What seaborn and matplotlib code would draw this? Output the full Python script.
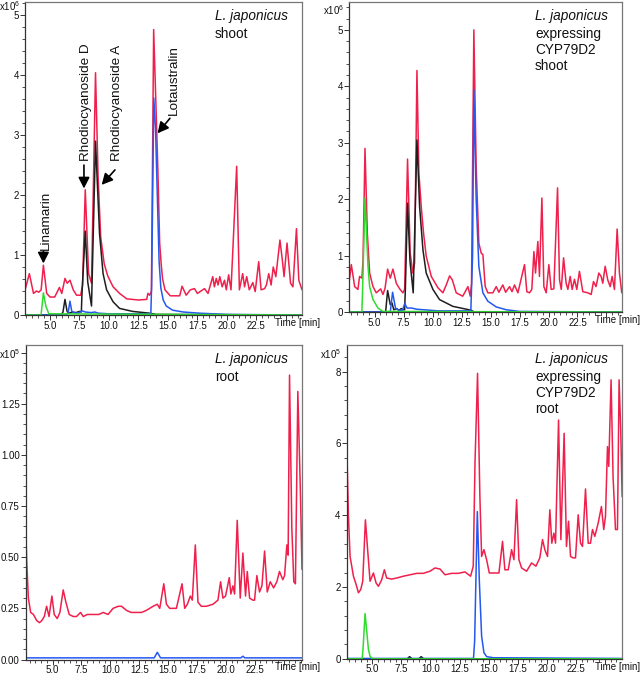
import matplotlib
matplotlib.use('Agg')
import matplotlib.pyplot as plt
import seaborn as sns
from matplotlib.ticker import MultipleLocator

sns.set_style('ticks')
plt.rcParams['font.family'] = ['Liberation Sans', 'DejaVu Sans']
plt.rcParams['mathtext.fontset'] = 'custom'
plt.rcParams['mathtext.rm'] = 'Liberation Sans'

# ---------------- data ----------------
x_ticks = [5.0, 7.5, 10.0, 12.5, 15.0, 17.5, 20.0, 22.5, 25.0]
x_tick_labels = ['5.0', '7.5', '10.0', '12.5', '15.0', '17.5', '20.0', '22.5', '']

# Top-left: L. japonicus shoot (x10^6)
tl_red_t = [2.89, 3.25, 3.6, 3.85, 4.05, 4.25, 4.44, 4.72, 5.0, 5.4, 5.8, 6.0, 6.27, 6.46, 6.7, 6.97, 7.25, 7.6,
            7.76, 7.99, 8.27, 8.52, 8.86, 9.08, 9.3, 9.6, 9.9, 10.35, 10.9, 11.5, 12.5, 13.2, 13.3, 13.45, 13.6,
            13.79, 14.0, 14.15, 14.3, 14.44, 14.55, 14.75, 15.2, 16.0, 16.2, 16.55, 16.9, 17.25, 17.5, 18.1, 18.4,
            18.8, 18.94, 19.1, 19.25, 19.4, 19.6, 19.8, 19.95, 20.15, 20.35, 20.83, 21.06, 21.34, 21.5, 21.68,
            21.9, 22.2, 22.4, 22.7, 22.9, 23.2, 23.35, 23.55, 23.75, 23.93, 24.15, 24.5, 24.7, 24.85, 25.1, 25.4,
            25.6, 25.9, 26.1, 26.37]
tl_red_y = [0.42, 0.69, 0.36, 0.40, 0.38, 0.42, 0.83, 0.36, 0.30, 0.30, 0.46, 0.36, 0.61, 0.53, 0.58, 0.42, 0.33,
            0.33, 0.50, 2.09, 0.69, 0.53, 4.04, 2.30, 1.30, 0.85, 0.65, 0.47, 0.36, 0.27, 0.25, 0.26, 0.36, 0.33,
            0.40, 4.76, 3.40, 2.40, 1.20, 0.82, 0.60, 0.42, 0.32, 0.32, 0.48, 0.33, 0.42, 0.44, 0.36, 0.44, 0.36,
            0.64, 0.47, 0.61, 0.50, 0.64, 0.47, 0.58, 0.42, 0.67, 0.42, 2.48, 0.42, 0.69, 0.47, 0.64, 0.42, 0.54,
            0.39, 0.89, 0.42, 0.44, 0.50, 0.69, 0.50, 0.80, 0.64, 1.25, 0.92, 0.64, 1.20, 0.53, 0.47, 1.44, 0.58,
            0.42]
tl_black_t = [2.89, 5.95, 6.1, 6.27, 6.45, 6.6, 6.9, 7.2, 7.5, 7.66, 7.7, 7.99, 8.2, 8.52, 8.86, 9.2, 9.5, 9.8,
              10.35, 10.9, 12.0, 13.45, 14.0, 26.37]
tl_black_y = [0, 0, 0.05, 0.26, 0.06, 0.03, 0.05, 0.04, 0.06, 0.05, 0.30, 1.40, 0.55, 0.15, 2.90, 1.36, 0.69,
              0.42, 0.22, 0.11, 0.06, 0.03, 0.01, 0.0]
tl_blue_t = [2.89, 6.4, 6.55, 6.69, 6.85, 7.0, 7.4, 7.7, 8.0, 8.5, 8.8, 9.1, 10.0, 13.55, 13.62, 13.8, 13.95,
             14.1, 14.25, 14.4, 14.6, 14.86, 15.4, 16.3, 17.7, 20.0, 26.37]
tl_blue_y = [0, 0, 0.05, 0.23, 0.06, 0.04, 0.03, 0.07, 0.05, 0.04, 0.05, 0.03, 0.02, 0.02, 0.5, 3.62, 3.1, 2.0,
             0.9, 0.45, 0.25, 0.15, 0.08, 0.05, 0.03, 0.01, 0.0]
tl_green_t = [2.89, 4.24, 4.35, 4.44, 4.55, 4.66, 4.9, 26.37]
tl_green_y = [0, 0, 0.2, 0.37, 0.25, 0.14, 0.02, 0]

# Top-right: L. japonicus expressing CYP79D2 shoot (x10^6)
tr_red_t = [2.79, 2.99, 3.28, 3.56, 3.7, 3.9, 4.0, 4.17, 4.37, 4.57, 4.86, 5.14, 5.52, 5.72, 5.9, 6.12, 6.35,
            6.58, 6.87, 7.16, 7.44, 7.59, 7.84, 8.07, 8.3, 8.45, 8.65, 8.82, 9.02, 9.22, 9.45, 9.89, 10.46, 10.89,
            11.18, 11.47, 11.7, 12.04, 12.6, 13.05, 13.25, 13.36, 13.56, 13.76, 13.99, 14.2, 14.34, 14.54, 14.77,
            15.2, 15.49, 15.72, 16.06, 16.3, 16.64, 16.85, 17.07, 17.36, 17.93, 18.13, 18.36, 18.56, 18.74, 18.88,
            19.08, 19.22, 19.43, 19.6, 19.8, 20.03, 20.23, 20.46, 20.78, 20.95, 21.1, 21.3, 21.52, 21.67, 21.87,
            22.04, 22.24, 22.44, 22.67, 22.96, 23.39, 23.68, 23.88, 24.1, 24.34, 24.54, 24.68, 24.89, 25.11,
            25.32, 25.49, 25.69, 25.92, 26.12, 26.32]
tr_red_y = [0.51, 0.84, 0.45, 0.40, 0.63, 0.60, 0.9, 2.90, 1.40, 0.69, 0.45, 0.34, 0.41, 0.31, 0.42, 0.76, 0.60,
            0.76, 0.51, 0.41, 0.34, 0.40, 2.71, 1.04, 0.69, 0.87, 4.28, 2.46, 1.87, 1.40, 0.99, 0.63, 0.43, 0.34,
            0.48, 0.64, 0.57, 0.34, 0.28, 0.45, 0.28, 0.5, 5.00, 2.58, 1.22, 1.04, 1.02, 0.45, 0.34, 0.34, 0.45,
            0.35, 0.48, 0.35, 0.45, 0.36, 0.48, 0.34, 0.84, 0.36, 0.34, 0.40, 1.07, 0.69, 1.25, 0.63, 2.02, 0.45,
            0.34, 0.84, 0.40, 0.41, 2.20, 0.57, 0.40, 0.96, 0.51, 0.40, 0.63, 0.40, 0.58, 0.40, 0.72, 0.36, 0.34,
            0.31, 0.54, 0.45, 0.69, 0.63, 0.51, 0.81, 0.57, 0.45, 0.63, 0.40, 1.47, 0.69, 0.34]
tr_black_t = [2.79, 5.95, 6.12, 6.35, 6.5, 6.65, 6.9, 7.1, 7.3, 7.5, 7.59, 7.65, 7.84, 8.05, 8.33, 8.65, 8.88,
              9.17, 9.45, 10.03, 10.6, 11.75, 12.9, 13.33, 13.6, 26.32]
tr_black_y = [0, 0, 0.38, 0.13, 0.16, 0.04, 0.06, 0.03, 0.06, 0.04, 0.04, 0.4, 1.93, 0.9, 0.34, 3.05, 1.87,
              1.10, 0.69, 0.40, 0.22, 0.10, 0.05, 0.03, 0.0, 0]
tr_blue_t = [2.79, 6.35, 6.55, 6.8, 7.1, 7.4, 7.6, 7.8, 8.2, 8.6, 9.2, 10.5, 13.3, 13.45, 13.56, 13.76, 13.99,
             14.34, 14.77, 15.49, 16.35, 17.5, 26.32]
tr_blue_y = [0, 0, 0.35, 0.07, 0.03, 0.03, 0.15, 0.07, 0.07, 0.05, 0.04, 0.02, 0.02, 1.0, 3.94, 2.0, 0.81, 0.34,
             0.19, 0.09, 0.04, 0.01, 0]
tr_green_t = [2.79, 3.9, 3.95, 4.17, 4.3, 4.43, 4.57, 4.86, 5.29, 5.72, 26.32]
tr_green_y = [0, 0, 0.3, 2.02, 1.40, 0.81, 0.45, 0.22, 0.07, 0.01, 0]

# Bottom-left: L. japonicus root (x10^5)
bl_red_t = [2.67, 2.76, 2.9, 3.1, 3.34, 3.63, 3.86, 4.06, 4.28, 4.48, 4.69, 4.94, 5.14, 5.4, 5.63, 5.92, 6.15,
            6.44, 6.79, 7.07, 7.42, 7.65, 8.0, 8.51, 9.0, 9.38, 9.8, 10.24, 10.68, 10.97, 11.4, 11.8, 12.26, 12.7,
            13.12, 13.7, 14.07, 14.28, 14.63, 14.86, 15.14, 15.72, 16.21, 16.44, 16.67, 16.93, 17.1, 17.36, 17.59,
            17.88, 18.31, 18.89, 19.32, 19.55, 19.75, 19.98, 20.3, 20.44, 20.62, 20.76, 20.99, 21.25, 21.48,
            21.71, 21.86, 22.06, 22.35, 22.49, 22.69, 22.92, 23.13, 23.36, 23.59, 23.85, 24.14, 24.42, 24.65,
            24.94, 25.09, 25.29, 25.4, 25.52, 25.72, 25.89, 26.03, 26.24, 26.47, 26.6]
bl_red_y = [0.65, 0.475, 0.30, 0.23, 0.22, 0.19, 0.18, 0.19, 0.21, 0.26, 0.21, 0.31, 0.22, 0.20, 0.23, 0.34,
            0.28, 0.22, 0.21, 0.21, 0.23, 0.21, 0.22, 0.22, 0.22, 0.23, 0.22, 0.25, 0.26, 0.26, 0.24, 0.23, 0.23,
            0.23, 0.24, 0.26, 0.27, 0.25, 0.37, 0.27, 0.25, 0.25, 0.37, 0.25, 0.27, 0.31, 0.29, 0.56, 0.28, 0.26,
            0.26, 0.27, 0.29, 0.38, 0.30, 0.31, 0.40, 0.32, 0.36, 0.32, 0.68, 0.30, 0.52, 0.31, 0.43, 0.30, 0.29,
            0.29, 0.41, 0.33, 0.36, 0.53, 0.33, 0.38, 0.35, 0.38, 0.43, 0.39, 0.41, 0.56, 0.51, 1.39, 0.64, 0.38,
            0.37, 1.31, 0.80, 0.44]
bl_blue_t = [2.67, 13.8, 14.07, 14.35, 21.3, 21.48, 21.65, 26.6]
bl_blue_y = [0.008, 0.008, 0.035, 0.008, 0.008, 0.016, 0.008, 0.008]

# Bottom-right: L. japonicus expressing CYP79D2 root (x10^5)
br_red_t = [2.79, 2.94, 3.08, 3.37, 3.6, 3.8, 4.0, 4.17, 4.4, 4.57, 4.8, 5.09, 5.32, 5.52, 5.8, 6.03, 6.23, 6.66,
            7.09, 7.66, 8.24, 8.81, 9.38, 9.96, 10.39, 10.82, 11.25, 11.82, 12.39, 12.97, 13.45, 13.68, 13.83,
            14.05, 14.25, 14.4, 14.6, 14.83, 15.06, 15.4, 15.89, 16.2, 16.4, 16.69, 16.98, 17.18, 17.41, 17.61,
            17.84, 18.27, 18.7, 19.07, 19.41, 19.64, 19.84, 20.07, 20.27, 20.44, 20.62, 20.76, 21.02, 21.22, 21.5,
            21.7, 21.88, 22.05, 22.28, 22.48, 22.71, 22.91, 23.08, 23.34, 23.57, 23.77, 23.94, 24.14, 24.43,
            24.71, 24.91, 25.06, 25.23, 25.34, 25.54, 25.71, 25.92, 26.09, 26.23, 26.37, 26.49]
br_red_y = [6.0, 3.97, 2.85, 2.30, 2.07, 1.84, 1.93, 2.16, 3.87, 3.13, 2.16, 2.39, 2.11, 2.02, 2.20, 2.48, 2.25,
            2.22, 2.25, 2.30, 2.34, 2.38, 2.38, 2.44, 2.53, 2.50, 2.34, 2.38, 2.38, 2.42, 2.30, 2.58, 5.45, 7.95,
            4.52, 2.85, 3.04, 2.76, 2.39, 2.39, 2.39, 3.27, 2.48, 2.48, 3.04, 2.76, 4.43, 2.76, 2.53, 2.44, 2.67,
            2.58, 2.81, 3.32, 3.04, 2.85, 4.15, 3.22, 3.50, 3.22, 6.65, 3.32, 6.28, 3.13, 3.83, 2.85, 2.81, 2.81,
            4.01, 3.22, 3.13, 4.73, 3.22, 3.22, 3.60, 3.41, 3.78, 4.24, 3.60, 3.97, 5.91, 5.36, 7.77, 5.08, 3.60,
            3.60, 7.77, 6.38, 4.52]
br_black_t = [2.79, 8.0, 8.2, 8.4, 9.0, 9.2, 9.4, 26.49]
br_black_y = [0, 0, 0.06, 0, 0, 0.06, 0, 0]
br_blue_t = [2.79, 13.7, 13.8, 14.03, 14.2, 14.4, 14.6, 14.83, 15.4, 26.49]
br_blue_y = [0.01, 0.01, 0.5, 4.10, 2.2, 0.63, 0.17, 0.06, 0.03, 0.01]
br_green_t = [2.79, 4.12, 4.2, 4.37, 4.5, 4.66, 4.8, 5.0, 26.49]
br_green_y = [0, 0, 0.3, 1.26, 0.82, 0.26, 0.07, 0, 0]

shoot_yticks = [0, 1, 2, 3, 4, 5]
shoot_ytick_labels = ['0', '1', '2', '3', '4', '5']
wt_root_yticks = [0.0, 0.25, 0.5, 0.75, 1.0, 1.25, 1.5]
wt_root_ytick_labels = ['0.00', '0.25', '0.50', '0.75', '1.00', '1.25', '']
tg_root_yticks = [0, 2, 4, 6, 8]
tg_root_ytick_labels = ['0', '2', '4', '6', '8']

compounds = ['Linamarin', 'Rhodiocyanoside D', 'Rhodiocyanoside A', 'Lotaustralin']
compound_text_xy = [(4.62, 1.08), (8.05, 2.56), (10.68, 2.56), (15.51, 3.33)]
compound_arrow_from = [(4.44, 1.06), (7.88, 2.50), (10.51, 2.42), (15.17, 3.28)]
compound_arrow_to = [(4.44, 0.86), (7.88, 2.11), (9.38, 2.17), (14.12, 3.03)]

# ---------------- styling ----------------
RED = '#F0204C'
BLUE = '#2458F0'
GREEN = '#2EDC2E'
BLACK = '#1E1E1E'
W, H = 640, 674
fig = plt.figure(figsize=(6.4, 6.74), dpi=100)


def px_axes(left, top, right, bottom):
    return fig.add_axes([left / W, 1 - bottom / H, (right - left) / W, (bottom - top) / H])


panels = [
    dict(box=(25, 2, 302, 315), xlim=(2.88, 26.37), ylim=(0, 5.22), yt=shoot_yticks, ytl=shoot_ytick_labels,
         yminor=0.2, exp='6', expdy=4.5, lines=['shoot'],
         traces=[(tl_red_t, tl_red_y, RED), (tl_black_t, tl_black_y, BLACK), (tl_blue_t, tl_blue_y, BLUE),
                 (tl_green_t, tl_green_y, GREEN)]),
    dict(box=(349, 1.7, 622, 312), xlim=(2.79, 26.34), ylim=(0, 5.5), yt=shoot_yticks, ytl=shoot_ytick_labels,
         yminor=0.2, exp='6', expdy=8, lines=['expressing', 'CYP79D2', 'shoot'],
         traces=[(tr_red_t, tr_red_y, RED), (tr_black_t, tr_black_y, BLACK), (tr_blue_t, tr_blue_y, BLUE),
                 (tr_green_t, tr_green_y, GREEN)]),
    dict(box=(25.7, 345, 302, 659.5), xlim=(2.67, 26.6), ylim=(0, 1.537), yt=wt_root_yticks,
         ytl=wt_root_ytick_labels, yminor=0.05, exp='5', expdy=9, lines=['root'],
         traces=[(bl_red_t, bl_red_y, RED), (bl_blue_t, bl_blue_y, BLUE)]),
    dict(box=(346.7, 345, 622, 658.8), xlim=(2.79, 26.48), ylim=(0, 8.74), yt=tg_root_yticks,
         ytl=tg_root_ytick_labels, yminor=0.4, exp='5', expdy=9, lines=['expressing', 'CYP79D2', 'root'],
         traces=[(br_red_t, br_red_y, RED), (br_black_t, br_black_y, BLACK), (br_blue_t, br_blue_y, BLUE),
                 (br_green_t, br_green_y, GREEN)]),
]

PT = 72 / 100  # points per pixel
TICK_FS = 7.0
axes = []
for p in panels:
    l, t, r, b = p['box']
    ax = px_axes(l, t, r, b)
    axes.append(ax)
    for tt, yy, c in p['traces']:
        sns.lineplot(x=tt, y=yy, ax=ax, color=c, lw=1.1, estimator=None, sort=False, legend=False)
    ax.set_xlim(*p['xlim'])
    ax.set_ylim(*p['ylim'])
    ax.set_xlabel('')
    ax.set_ylabel('')
    ax.set_xticks(x_ticks)
    ax.set_xticklabels(x_tick_labels)
    ax.xaxis.set_minor_locator(MultipleLocator(0.5))
    ax.set_yticks(p['yt'])
    ax.set_yticklabels(p['ytl'])
    ax.yaxis.set_minor_locator(MultipleLocator(p['yminor']))
    ax.tick_params(which='major', direction='out', length=3.4, width=0.7, labelsize=TICK_FS, pad=1.0,
                   color='#333333', labelcolor='#111111')
    ax.tick_params(axis='x', which='major', pad=0.6)
    ax.tick_params(which='minor', direction='out', length=2.0, width=0.6, color='#333333')
    for side in ['left', 'bottom']:
        ax.spines[side].set_color('#333333')
        ax.spines[side].set_linewidth(0.9)
    for side in ['top', 'right']:
        ax.spines[side].set_visible(True)
        ax.spines[side].set_color('#777777')
        ax.spines[side].set_linewidth(0.9)
    # multiplier
    ax.annotate('x10$^{' + p['exp'] + '}$', xy=(0, 1), xycoords='axes fraction',
                xytext=(-5 * PT, -p['expdy'] * PT), textcoords='offset points', ha='right', va='center',
                fontsize=TICK_FS, color='#111111', annotation_clip=False)
    # time label
    ax.annotate('Time [min]', xy=(1, 0), xycoords='axes fraction', xytext=(-27 * PT, -8 * PT),
                textcoords='offset points', ha='left', va='center', fontsize=TICK_FS, color='#111111',
                annotation_clip=False)
    # panel title
    fx = (215 if l < 300 else 535)
    ax.annotate('L. japonicus', xy=(0, 1), xycoords='axes fraction',
                xytext=((fx - l) * PT, -7 * PT), textcoords='offset points', ha='left', va='top',
                fontsize=9.8, fontstyle='italic', color='#111111')
    ax.annotate('\n'.join(p['lines']), xy=(0, 1), xycoords='axes fraction',
                xytext=((fx - l) * PT, -25 * PT), textcoords='offset points', ha='left', va='top',
                fontsize=9.8, color='#111111', linespacing=1.2)

ax0 = axes[0]
for name, (tx, ty), (ax_, ay_), (bx, by) in zip(compounds, compound_text_xy, compound_arrow_from,
                                                  compound_arrow_to):
    ax0.text(tx, ty, name, rotation=90, ha='center', va='bottom', fontsize=9.7, color='#111111')
    ax0.annotate('', xy=(bx, by), xytext=(ax_, ay_),
                 arrowprops=dict(arrowstyle='-|>,head_length=0.55,head_width=0.28', color='black', lw=1.2,
                                 mutation_scale=12, shrinkA=0, shrinkB=0))

fig.savefig('out.png', dpi=100)
